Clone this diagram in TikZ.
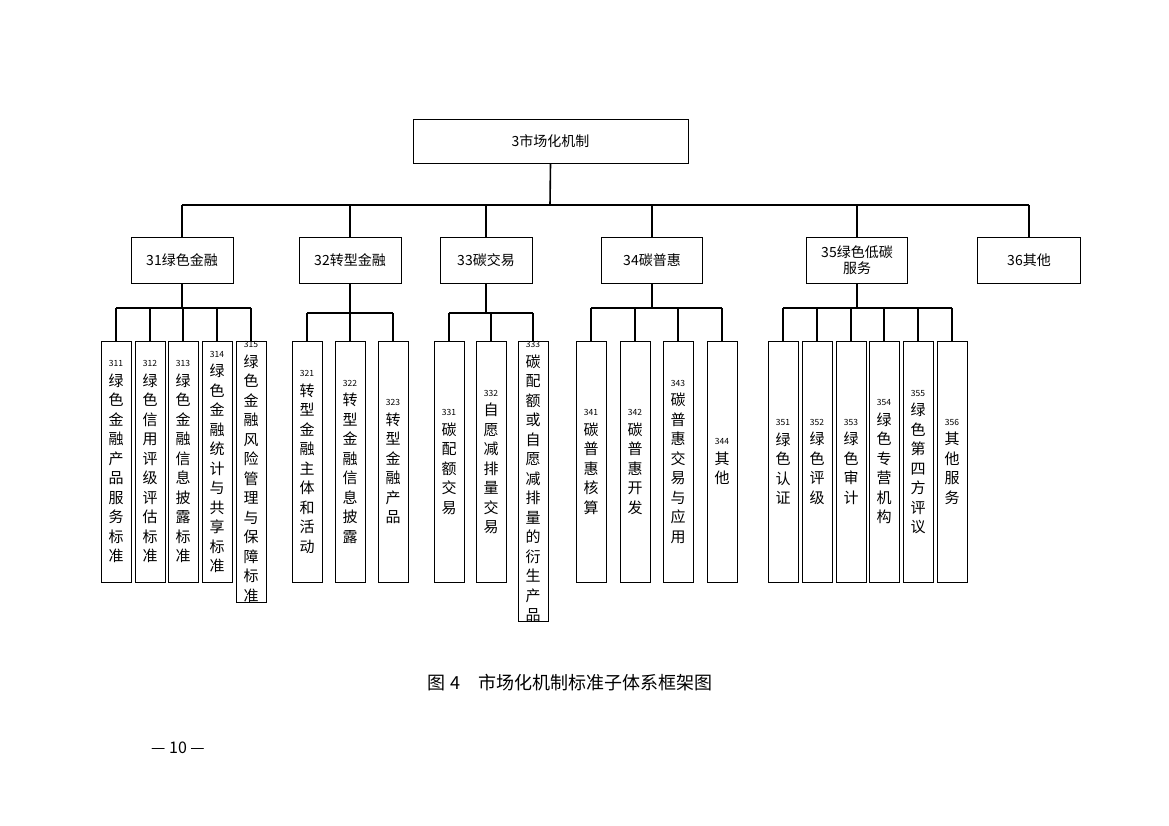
\documentclass[tikz,border=0pt]{standalone}
\usepackage{fontspec}
\setmainfont{Noto Sans CJK SC}
\newfontfamily\cjk{Noto Sans CJK SC}
\begin{document}
\begin{tikzpicture}[x=1pt,y=-1pt,
 box/.style={draw,line width=0.8pt,inner sep=0pt,align=center},
 conn/.style={line width=1.6pt},
 leafbox/.style={box,minimum width=30pt,minimum height=241pt,anchor=north,font=\fontsize{15}{19.5}\selectfont},
 num/.style={}]
\useasboundingbox (0,0) rectangle (1169,826);
\newcommand{\nm}[1]{{\fontsize{8.5}{9}\selectfont #1}}
\node[box,minimum width=275pt,minimum height=44pt,font=\fontsize{14}{16}\selectfont] (top) at (550.5,141) {3市场化机制};
\tikzset{l2/.style={box,minimum width=102pt,minimum height=46pt,font=\fontsize{14}{16}\selectfont}}
\node[l2] (n31) at (182,260) {31绿色金融};
\node[l2] (n32) at (350,260) {32转型金融};
\node[l2,minimum width=92pt] (n33) at (486,260) {33碳交易};
\node[l2,minimum width=101pt] (n34) at (652,260) {34碳普惠};
\node[l2,minimum width=101pt] (n35) at (857,260) {35绿色低碳\\服务};
\node[l2,minimum width=103pt] (n36) at (1029,260) {36其他};
\coordinate (b0) at (550,205);
\draw[conn] (top.south) -- (b0);
\draw[conn] (182,205) -- (1029,205);
\foreach \n in {n31,n32,n33,n34,n35,n36} \draw[conn] (\n.north) -- (\n.north |- b0);
% leaves
\node[leafbox] (l311) at (116,341) {\nm{311}\\绿\\色\\金\\融\\产\\品\\服\\务\\标\\准};
\node[leafbox] (l312) at (150,341) {\nm{312}\\绿\\色\\信\\用\\评\\级\\评\\估\\标\\准};
\node[leafbox] (l313) at (183,341) {\nm{313}\\绿\\色\\金\\融\\信\\息\\披\\露\\标\\准};
\node[leafbox] (l314) at (217,341) {\nm{314}\\绿\\色\\金\\融\\统\\计\\与\\共\\享\\标\\准};
\node[leafbox] (l315) at (251,341) {\nm{315}\\绿\\色\\金\\融\\风\\险\\管\\理\\与\\保\\障\\标\\准};
\node[leafbox] (l321) at (307,341) {\nm{321}\\转\\型\\金\\融\\主\\体\\和\\活\\动};
\node[leafbox] (l322) at (350,341) {\nm{322}\\转\\型\\金\\融\\信\\息\\披\\露};
\node[leafbox] (l323) at (393,341) {\nm{323}\\转\\型\\金\\融\\产\\品};
\node[leafbox] (l331) at (449,341) {\nm{331}\\碳\\配\\额\\交\\易};
\node[leafbox] (l332) at (491,341) {\nm{332}\\自\\愿\\减\\排\\量\\交\\易};
\node[leafbox] (l333) at (533,341) {\nm{333}\\碳\\配\\额\\或\\自\\愿\\减\\排\\量\\的\\衍\\生\\产\\品};
\node[leafbox] (l341) at (591,341) {\nm{341}\\碳\\普\\惠\\核\\算};
\node[leafbox] (l342) at (635,341) {\nm{342}\\碳\\普\\惠\\开\\发};
\node[leafbox] (l343) at (678,341) {\nm{343}\\碳\\普\\惠\\交\\易\\与\\应\\用};
\node[leafbox] (l344) at (722,341) {\nm{344}\\其\\他};
\node[leafbox] (l351) at (783,341) {\nm{351}\\绿\\色\\认\\证};
\node[leafbox] (l352) at (817,341) {\nm{352}\\绿\\色\\评\\级};
\node[leafbox] (l353) at (851,341) {\nm{353}\\绿\\色\\审\\计};
\node[leafbox] (l354) at (884,341) {\nm{354}\\绿\\色\\专\\营\\机\\构};
\node[leafbox] (l355) at (918,341) {\nm{355}\\绿\\色\\第\\四\\方\\评\\议};
\node[leafbox] (l356) at (952,341) {\nm{356}\\其\\他\\服\\务};
% sub-buses
\newcommand{\grp}[4]{% parent, first leaf, last leaf, list
 \coordinate (s#1) at ($(#1.south)+(0,25)$);
 \draw[conn] (#1.south) -- (s#1);
 \draw[conn] (#2.north |- s#1) -- (#3.north |- s#1);
 \foreach \l in {#4} \draw[conn] (\l.north) -- (\l.north |- s#1);}
\path (0,0);
\draw[conn] (n31.south) -- (182,308);
\draw[conn] (116,308) -- (251,308);
\foreach \l in {l311,l312,l313,l314,l315} \draw[conn] (\l.north) -- (\l.north |- 0,308);
\draw[conn] (n32.south) -- (350,313);
\draw[conn] (307,313) -- (393,313);
\foreach \l in {l321,l322,l323} \draw[conn] (\l.north) -- (\l.north |- 0,313);
\draw[conn] (n33.south) -- (486,313);
\draw[conn] (449,313) -- (533,313);
\foreach \l in {l331,l332,l333} \draw[conn] (\l.north) -- (\l.north |- 0,313);
\draw[conn] (n34.south) -- (652,308);
\draw[conn] (591,308) -- (722,308);
\foreach \l in {l341,l342,l343,l344} \draw[conn] (\l.north) -- (\l.north |- 0,308);
\draw[conn] (n35.south) -- (857,308);
\draw[conn] (783,308) -- (952,308);
\foreach \l in {l351,l352,l353,l354,l355,l356} \draw[conn] (\l.north) -- (\l.north |- 0,308);
\node[font=\fontsize{18}{20}\selectfont] (cap) at (570,683) {图 4\quad 市场化机制标准子体系框架图};
\node[font=\fontsize{16}{18}\selectfont] (pg) at (178,748) {— 10 —};
\end{tikzpicture}
\end{document}
